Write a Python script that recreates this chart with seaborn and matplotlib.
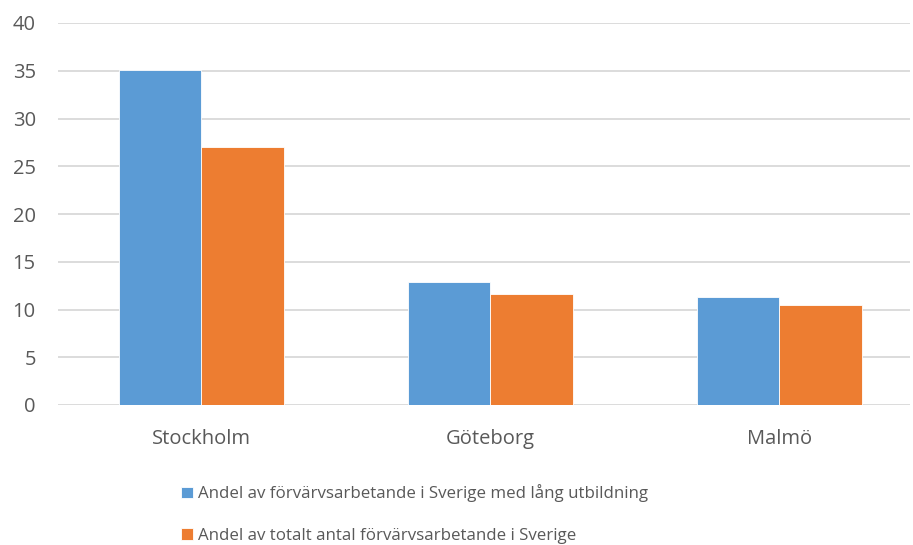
import matplotlib
matplotlib.use('Agg')
import matplotlib.pyplot as plt
import seaborn as sns
import pandas as pd

# Data
cities = ['Stockholm', 'Göteborg', 'Malmö']
series_names = ['Andel av förvärvsarbetande i Sverige med lång utbildning',
                'Andel av totalt antal förvärvsarbetande i Sverige']
long_edu = [35.1, 12.9, 11.3]
total_emp = [27.0, 11.6, 10.5]
y_ticks = [0, 5, 10, 15, 20, 25, 30, 35, 40]

df = pd.DataFrame({
    'Stad': cities * 2,
    'Serie': [series_names[0]] * 3 + [series_names[1]] * 3,
    'Andel': long_edu + total_emp,
})

sns.set_style('white')
plt.rcParams['font.family'] = ['Open Sans', 'DejaVu Sans']
text_col = '#595959'

fig = plt.figure(figsize=(9.13, 5.45), dpi=100)
ax = fig.add_axes([58 / 913, 140 / 545, 852 / 913, 382 / 545])

sns.barplot(data=df, x='Stad', y='Andel', hue='Serie', ax=ax,
            palette=['#5b9bd5', '#ed7d31'], width=0.571, saturation=1,
            edgecolor='white', linewidth=0.6)

ax.set_ylim(0, 40)
ax.set_yticks(y_ticks)
ax.set_xlim(-0.495, 2.453)
ax.yaxis.grid(True, color='#d9d9d9', linewidth=1.3)
ax.set_axisbelow(True)
for s in ax.spines.values():
    s.set_visible(False)
ax.tick_params(axis='both', length=0, colors=text_col, labelsize=14.5)
ax.tick_params(axis='x', pad=17)
ax.tick_params(axis='y', pad=16)
ax.set_xlabel('')
ax.set_ylabel('')

handles, labels = ax.get_legend_handles_labels()
ax.legend(handles, labels, loc='upper left', bbox_to_anchor=(0.127, -0.168),
          frameon=False, ncol=1, handlelength=0.7, handleheight=0.7,
          handletextpad=0.25, labelspacing=1.5, fontsize=12.2,
          labelcolor=text_col)

fig.savefig('out.png', dpi=100)
